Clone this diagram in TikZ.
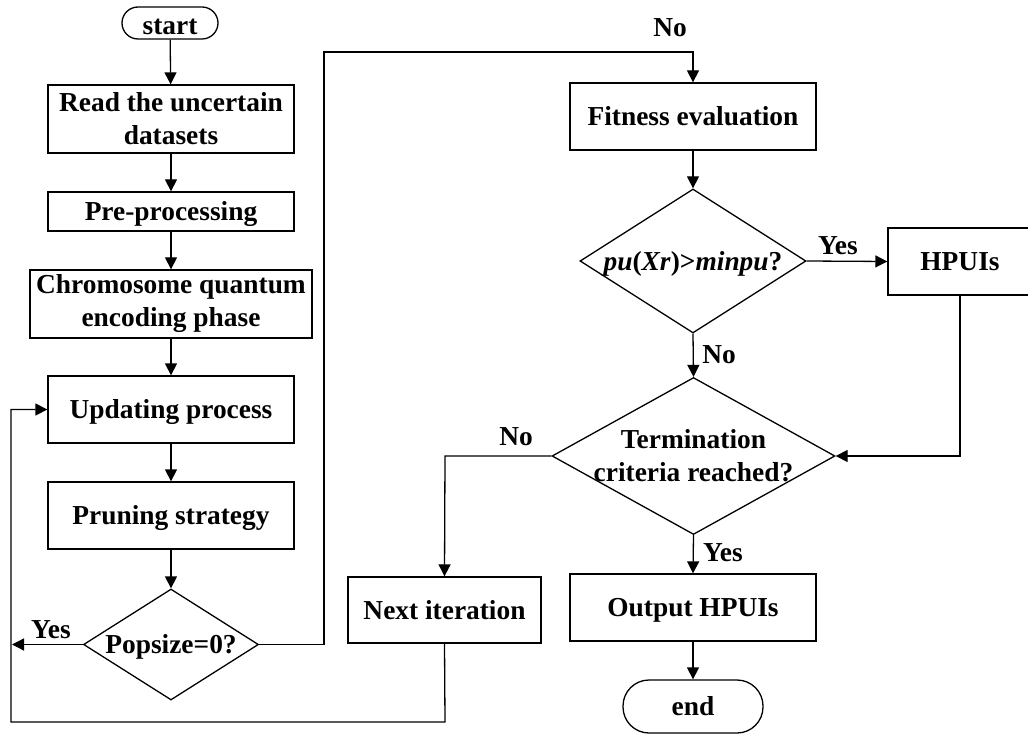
\documentclass[tikz,border=0pt]{standalone}
\usepackage{fontspec}
\setmainfont{Liberation Serif}
\usetikzlibrary{arrows.meta,shapes.geometric}
\tikzset{
  every node/.style={font=\fontsize{27.4}{33}\selectfont\bfseries},
  line/.style={line width=1.3pt,black},
  arr/.style={line,-{Triangle[length=12pt,width=12pt]}},
  procbox/.style={draw,line width=1.3pt,rectangle,inner sep=0pt,align=center},
  termbox/.style={draw,line width=1.3pt,rectangle,rounded corners=16pt,inner sep=0pt},
  decision/.style={draw,line width=1.3pt,diamond,inner sep=0pt},
  lbl/.style={inner sep=0pt},
  oneline/.style={text height=18.5pt,text depth=0pt}
}
\begin{document}
\begin{tikzpicture}[x=1pt,y=-1pt]
\useasboundingbox (0,0) rectangle (1028,735);
% left column
\node[termbox,oneline,text height=24pt,minimum width=96pt,minimum height=32pt] (start) at (170,23) {start};
\node[procbox,minimum width=246pt,minimum height=68pt] (read) at (171,119) {Read the uncertain\\datasets};
\node[procbox,oneline,minimum width=246pt,minimum height=39pt] (pre) at (171,211.5) {Pre-processing};
\node[procbox,minimum width=282pt,minimum height=68pt] (chrom) at (171,304) {Chromosome quantum\\encoding phase};
\node[procbox,oneline,minimum width=246pt,minimum height=67pt] (upd) at (171,409.5) {Updating process};
\node[procbox,oneline,minimum width=246pt,minimum height=67pt] (prune) at (171,515.5) {Pruning strategy};
\node[decision,minimum width=175pt,minimum height=111pt,label={[lbl,oneline]center:Popsize=0?}] (pop) at (171,644.5) {};
% middle/right
\node[procbox,oneline,minimum width=246pt,minimum height=67pt] (fit) at (693,116.5) {Fitness evaluation};
\node[decision,minimum width=226pt,minimum height=144pt,label={[lbl,oneline]center:\textit{pu}(\textit{Xr})>\textit{minpu}?}] (pu) at (693,261) {};
\node[procbox,oneline,minimum width=144pt,minimum height=67pt] (hp) at (960,261.5) {HPUIs};
\node[decision,minimum width=283pt,minimum height=157pt,label={[lbl,align=center]center:Termination\\criteria reached?}] (term) at (693.5,456) {};
\node[procbox,oneline,minimum width=193pt,minimum height=66pt] (next) at (444.5,610) {Next iteration};
\node[procbox,oneline,minimum width=246pt,minimum height=67pt] (out) at (693,607.5) {Output HPUIs};
\node[termbox,oneline,rounded corners=26pt,minimum width=140pt,minimum height=53pt] (end) at (693,706.5) {end};
% helper coordinates
\coordinate (yesend) at (12,644.5);
\coordinate (popr) at (324,644.5);
\coordinate (popt) at (324,52);
\coordinate (fitt) at (693,52);
\coordinate (hpb) at (960,456);
\coordinate (terml) at (445,456);
\coordinate (nb) at (445,722);
\coordinate (lb) at (11,722);
\coordinate (lt) at (11,409.5);
% connectors
\draw[arr] (start) -- (read);
\draw[arr] (read) -- (pre);
\draw[arr] (pre) -- (chrom);
\draw[arr] (chrom) -- (upd);
\draw[arr] (upd) -- (prune);
\draw[arr] (prune) -- (pop);
\draw[arr] (pop.west) -- (yesend);
\draw[arr] (pop.east) -- (popr) -- (popt) -- (fitt) -- (fit.north);
\draw[arr] (fit) -- (pu);
\draw[arr] (pu.east) -- (hp.west);
\draw[arr] (hp.south) -- (hpb) -- (term.east);
\draw[arr] (pu.south) -- (term.north);
\draw[arr] (term.west) -- (terml) -- (next.north);
\draw[arr] (term.south) -- (out.north);
\draw[arr] (out) -- (end);
\draw[arr] (next.south) -- (nb) -- (lb) -- (lt) -- (upd.west);
% labels
\node[lbl] (ylab1) at (51,630) {Yes};
\node[lbl] (nlab1) at (670,28) {No};
\node[lbl] (ylab2) at (838,246) {Yes};
\node[lbl] (nlab2) at (719,355) {No};
\node[lbl] (nlab3) at (516,437) {No};
\node[lbl] (ylab3) at (723,553) {Yes};
\end{tikzpicture}
\end{document}
